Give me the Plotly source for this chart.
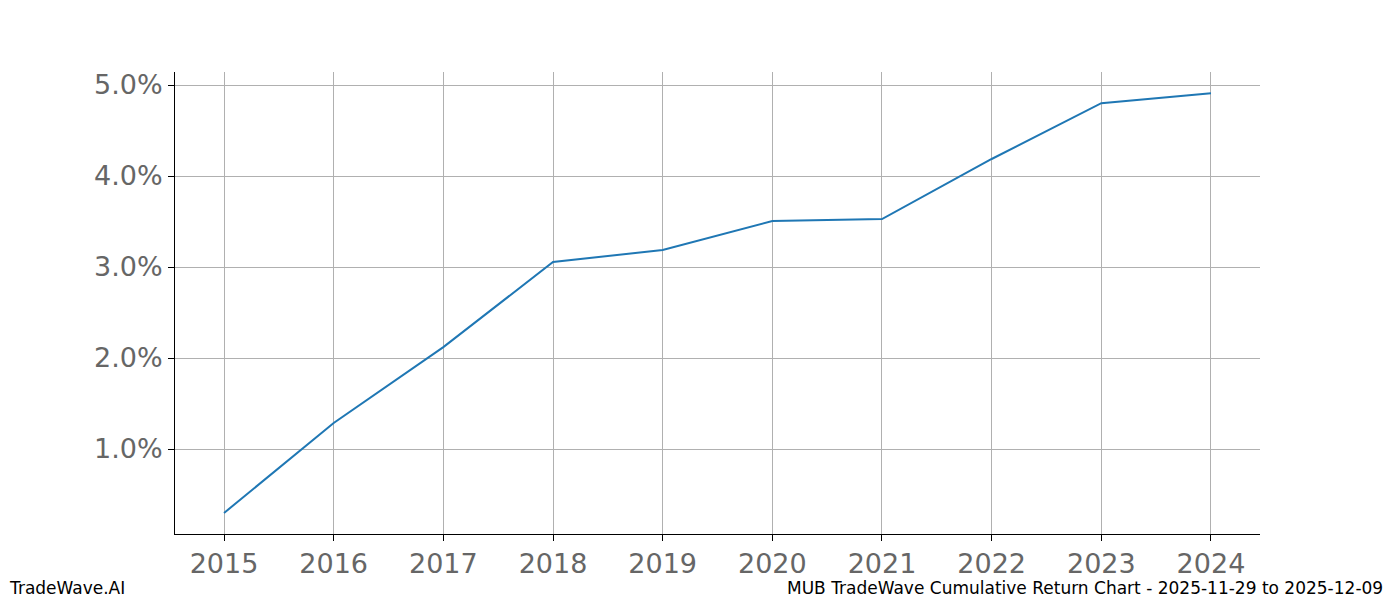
import plotly.graph_objects as go

years = [2015, 2016, 2017, 2018, 2019, 2020, 2021, 2022, 2023, 2024]
returns = [0.297, 1.286, 2.12, 3.055, 3.187, 3.505, 3.527, 4.187, 4.80, 4.91]
y_ticks = [1.0, 2.0, 3.0, 4.0, 5.0]
y_labels = ["1.0%", "2.0%", "3.0%", "4.0%", "5.0%"]

fig = go.Figure(go.Scatter(x=years, y=returns, mode="lines",
                           line=dict(color="#1f77b4", width=2)))
fig.update_layout(
    width=1392, height=592, margin=dict(l=167, r=140, t=64, b=66),
    plot_bgcolor="white", paper_bgcolor="white", showlegend=False,
    font=dict(family="DejaVu Sans"),
)
fig.update_xaxes(range=[2014.553, 2024.447], tickvals=years, ticks="outside",
                 ticklen=6, tickcolor="black", showgrid=True, gridcolor="#b0b0b0",
                 gridwidth=0.8, showline=True, linecolor="black", mirror=False,
                 tickfont=dict(size=27, color="#666666"), zeroline=False)
fig.update_yaxes(range=[0.066, 5.143], tickvals=y_ticks, ticktext=y_labels,
                 ticks="outside", ticklen=6, tickcolor="black", showgrid=True,
                 gridcolor="#b0b0b0", gridwidth=0.8, showline=True, linecolor="black",
                 tickfont=dict(size=27, color="#666666"), zeroline=False)
fig.add_annotation(text="TradeWave.AI", xref="paper", yref="paper",
                   x=-168/1085, y=-54/462, xanchor="left", yanchor="middle",
                   showarrow=False, font=dict(size=17, color="black"))
fig.add_annotation(text="MUB TradeWave Cumulative Return Chart - 2025-11-29 to 2025-12-09",
                   xref="paper", yref="paper", x=1210/1085, y=-54/462,
                   xanchor="right", yanchor="middle", showarrow=False,
                   font=dict(size=17, color="black"))
fig.write_html("out.html")
